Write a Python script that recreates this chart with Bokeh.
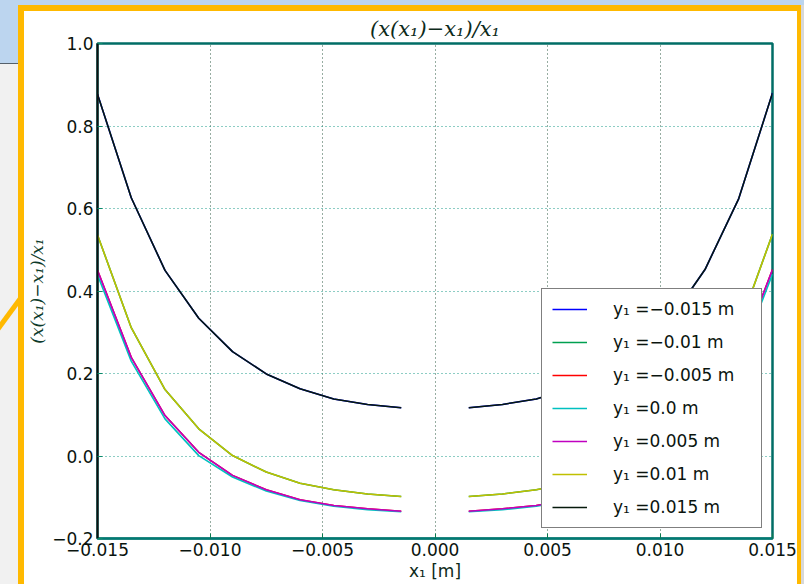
import numpy as np
from bokeh.plotting import figure
from bokeh.models import FixedTicker, Legend, LegendItem, ColumnDataSource, Div
from bokeh.layouts import row, column
from bokeh.embed import file_html
from bokeh.resources import INLINE

nan = float("nan")

# x positions [m]
x1 = [-0.015, -0.0135, -0.012, -0.0105, -0.009, -0.0075, -0.006, -0.0045, -0.003, -0.0015, 0.0,
      0.0015, 0.003, 0.0045, 0.006, 0.0075, 0.009, 0.0105, 0.012, 0.0135, 0.015]

# (x(x1)-x1)/x1 for each y1
r_m015 = [0.877, 0.626, 0.450, 0.334, 0.253, 0.199, 0.163, 0.138, 0.125, 0.117, nan,
          0.117, 0.125, 0.138, 0.163, 0.199, 0.253, 0.334, 0.452, 0.624, 0.880]
r_m010 = [0.536, 0.311, 0.161, 0.066, 0.001, -0.039, -0.066, -0.082, -0.092, -0.098, nan,
          -0.098, -0.092, -0.082, -0.066, -0.039, 0.001, 0.066, 0.161, 0.311, 0.538]
r_m005 = [0.450, 0.239, 0.098, 0.009, -0.047, -0.082, -0.106, -0.120, -0.128, -0.134, nan,
          -0.134, -0.128, -0.120, -0.106, -0.082, -0.047, 0.009, 0.098, 0.239, 0.452]
r_0 = [0.439, 0.230, 0.090, 0.001, -0.051, -0.085, -0.108, -0.122, -0.130, -0.135, nan,
       -0.135, -0.130, -0.122, -0.108, -0.085, -0.051, 0.001, 0.090, 0.230, 0.441]
r_p005 = [0.450, 0.239, 0.098, 0.009, -0.047, -0.082, -0.106, -0.120, -0.128, -0.134, nan,
          -0.134, -0.128, -0.120, -0.106, -0.082, -0.047, 0.009, 0.098, 0.239, 0.452]
r_p010 = [0.536, 0.311, 0.161, 0.066, 0.001, -0.039, -0.066, -0.082, -0.092, -0.098, nan,
          -0.098, -0.092, -0.082, -0.066, -0.039, 0.001, 0.066, 0.161, 0.311, 0.538]
r_p015 = [0.877, 0.626, 0.450, 0.334, 0.253, 0.199, 0.163, 0.138, 0.125, 0.117, nan,
          0.117, 0.125, 0.138, 0.163, 0.199, 0.253, 0.334, 0.452, 0.624, 0.880]

series = [r_m015, r_m010, r_m005, r_0, r_p005, r_p010, r_p015]
labels = ["y₁ =−0.015 m", "y₁ =−0.01 m", "y₁ =−0.005 m", "y₁ =0.0 m",
          "y₁ =0.005 m", "y₁ =0.01 m", "y₁ =0.015 m"]
colors = ["#0000ff", "#00a050", "#ff0000", "#00c0c0", "#c000c0", "#c0c000", "#061a0c"]

x_ticks = [-0.015, -0.01, -0.005, 0.0, 0.005, 0.01, 0.015]
x_tick_labels = ["−0.015", "−0.010", "−0.005", "0.000", "0.005", "0.010", "0.015"]
y_ticks = [-0.2, 0.0, 0.2, 0.4, 0.6, 0.8, 1.0]
y_tick_labels = ["−0.2", "0.0", "0.2", "0.4", "0.6", "0.8", "1.0"]

title_text = "(x(x₁)−x₁)/x₁"
x_label = "x₁ [m]"
y_label = "(x(x₁)−x₁)/x₁"

p = figure(width=773, height=573, x_range=(-0.015, 0.015), y_range=(-0.2, 1.0),
           output_backend="svg", toolbar_location=None,
           min_border_left=73, min_border_right=25, min_border_top=31, min_border_bottom=46,
           background_fill_color="white", border_fill_color="white")
p.outline_line_color = "#006d66"
p.outline_line_width = 2.5

# title
p.title.text = title_text
p.title.align = "center"
p.title.text_font = "DejaVu Serif"
p.title.text_font_style = "italic"
p.title.text_font_size = "21px"
p.title.text_color = "#0d2a1a"
p.title.standoff = 6

xa = p.xaxis[0]
ya = p.yaxis[0]
xa.ticker = FixedTicker(ticks=x_ticks)
xa.major_label_overrides = {t: s for t, s in zip(x_ticks, x_tick_labels)}
ya.ticker = FixedTicker(ticks=y_ticks)
ya.major_label_overrides = {t: s for t, s in zip(y_ticks, y_tick_labels)}

for ax in [xa, ya]:
    ax.major_tick_in = 5
    ax.major_tick_out = 0
    ax.minor_tick_in = 0
    ax.minor_tick_out = 0
    ax.major_label_text_font = "DejaVu Sans"
    ax.major_label_text_font_size = "17px"
    ax.major_label_text_color = "#0a140e"

xa.axis_line_color = "#007a74"
xa.axis_line_width = 2
xa.major_tick_line_color = "#0a7a50"
xa.major_label_standoff = 4
xa.axis_label = x_label
xa.axis_label_standoff = 2
xa.axis_label_text_font = "DejaVu Sans"
xa.axis_label_text_font_style = "normal"
xa.axis_label_text_font_size = "17px"
xa.axis_label_text_color = "#0d2a1a"

ya.axis_line_color = "#101010"
ya.axis_line_width = 2
ya.major_tick_line_color = "#0a8a6a"
ya.major_label_standoff = 4
ya.axis_label = y_label
ya.axis_label_standoff = 2
ya.axis_label_text_font = "DejaVu Serif"
ya.axis_label_text_font_style = "italic"
ya.axis_label_text_font_size = "17px"
ya.axis_label_text_color = "#0d3a2a"

# dotted grid
p.xgrid.grid_line_color = "#2f5a45"
p.xgrid.grid_line_dash = "1 3"
p.xgrid.grid_line_width = 1
p.ygrid.grid_line_color = "#1a9a88"
p.ygrid.grid_line_dash = "1 3"
p.ygrid.grid_line_width = 1

items = []
xs = np.array(x1, dtype=float)
for ys, lab, col in zip(series, labels, colors):
    src = ColumnDataSource(data=dict(x=xs, y=np.array(ys, dtype=float)))
    r = p.line("x", "y", source=src, line_color=col, line_width=1.6)
    items.append(LegendItem(label=lab, renderers=[r]))

legend = Legend(items=items, location="bottom_right", margin=10,
                padding=10, spacing=13, glyph_width=35, glyph_height=20,
                label_height=20, label_width=138, label_standoff=26,
                label_text_font="DejaVu Sans", label_text_font_size="17px",
                label_text_color="#0a140e",
                border_line_color="black", border_line_width=1.5,
                background_fill_color="white", background_fill_alpha=1.0)
p.add_layout(legend)

# surrounding screenshot frame (plain styled boxes, no text)
diag = ("url(\"data:image/svg+xml,%3Csvg xmlns='http://www.w3.org/2000/svg' width='24' height='573'%3E"
        "%3Cline x1='-2' y1='318' x2='20' y2='288' stroke='%23ffb900' stroke-width='5'/%3E%3C/svg%3E\")")
top_bar = Div(width=804, height=11, margin=0, styles={
    "background": "linear-gradient(to bottom, #bcd5ef 0 5px, transparent 5px), "
                  "linear-gradient(to right, #bcd5ef 0 18px, #ffb900 18px 801px, #d8d8d8 801px)"})
left_bar = Div(width=24, height=573, margin=0, styles={
    "background": diag + " no-repeat, "
                  "linear-gradient(to right, transparent 0 18px, #ffb900 18px 24px), "
                  "linear-gradient(to bottom, #bcd5ef 0 52px, #55606a 52px 53px, #f1f1f1 53px)"})
right_bar = Div(width=7, height=573, margin=0, styles={
    "background": "linear-gradient(to right, #ffb900 0 4px, #d8d8d8 4px)"})

layout = column(top_bar, row(left_bar, p, right_bar, spacing=0), spacing=0)

open("out.html", "w").write(file_html(layout, INLINE))
